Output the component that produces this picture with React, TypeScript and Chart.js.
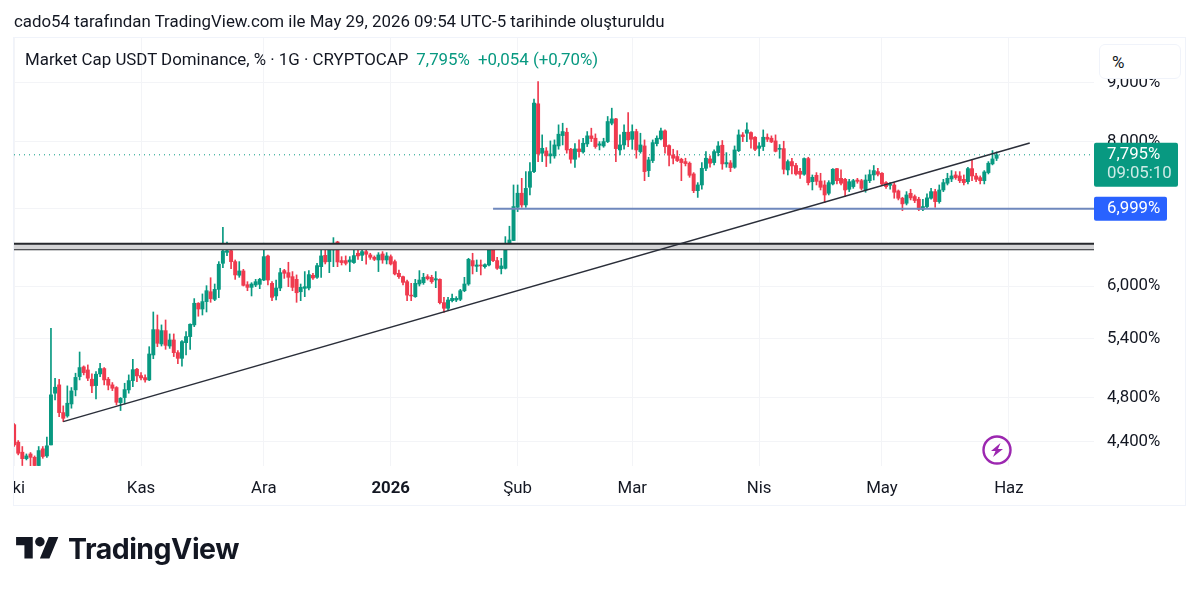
import { useEffect, useRef } from 'react';
import { Chart, registerables } from 'chart.js';

Chart.register(...registerables);

// daily candles, index 0 = 1 Oct 2025
const opens = [
  4.55,4.394,4.307,4.252,4.292,4.263,4.194,4.336,4.275,4.37,
  4.845,4.926,4.661,4.63,4.742,4.877,5.008,5.106,5.075,4.982,
  4.919,5.035,5.089,4.982,4.926,4.9,4.755,4.803,4.877,4.968,
  5.082,5.018,4.998,4.975,5.229,5.5,5.345,5.489,5.323,5.388,
  5.253,5.194,5.359,5.424,5.552,5.797,5.731,5.816,5.932,5.843,
  5.96,6.278,6.417,6.438,6.299,6.13,6.183,6.016,5.984,6.012,
  6.02,6.072,6.37,6.032,5.882,5.976,6.187,6.162,6.113,6.08,
  5.932,5.972,5.976,6.13,6.105,6.236,6.379,6.299,6.447,6.551,
  6.312,6.312,6.295,6.287,6.405,6.379,6.426,6.384,6.354,6.32,
  6.396,6.32,6.362,6.299,6.154,6.113,6.052,5.892,5.874,6.024,
  6.04,6.113,6.105,6.072,6.08,5.804,5.739,5.827,5.835,5.843,
  5.944,6.024,6.312,6.24,6.257,6.236,6.257,6.456,6.312,6.212,
  6.216,6.516,6.57,7.02,7.22,7.053,7.306,7.538,8.63,7.82,
  7.855,7.778,7.778,7.934,8.1,8.154,7.882,7.726,7.887,7.84,
  7.966,8.095,8.057,7.945,7.934,8.003,8.302,8.374,7.871,7.95,
  8.154,8.04,8.165,7.845,7.934,7.553,7.706,7.971,8.046,8.176,
  7.94,7.793,7.768,7.726,7.69,7.665,7.503,7.257,7.34,7.588,
  7.731,7.675,7.829,7.945,7.655,7.67,7.604,7.86,8.111,8.138,
  8.149,8.073,7.897,7.924,8.073,8.057,8.014,7.881,7.892,7.563,
  7.69,7.63,7.543,7.498,7.737,7.388,7.483,7.398,7.34,7.219,
  7.355,7.583,7.438,7.423,7.277,7.316,7.413,7.403,7.267,7.403,
  7.488,7.538,7.513,7.374,7.335,7.34,7.253,7.148,7.077,7.219,
  7.172,7.134,6.992,7.03,7.148,7.243,7.1,7.267,7.365,7.428,
  7.488,7.473,7.423,7.388,7.583,7.473,7.448,7.403,7.523,7.655,
  7.741,
];
const highs = [
  4.56,4.408,4.356,4.292,4.304,4.275,4.356,4.356,4.438,5.515,
  4.992,4.982,4.724,4.916,4.9,5.042,5.26,5.116,5.126,5.035,
  5.058,5.142,5.099,5.0,4.949,4.909,4.803,4.942,5.025,5.184,
  5.092,5.048,5.025,5.316,5.697,5.663,5.552,5.607,5.453,5.453,
  5.274,5.381,5.478,5.563,5.851,5.804,5.906,6.004,6.1,6.024,
  6.299,6.746,6.55,6.447,6.32,6.299,6.203,6.052,6.04,6.08,
  6.093,6.534,6.383,6.052,6.072,6.216,6.203,6.291,6.175,6.134,
  6.024,6.175,6.187,6.154,6.278,6.469,6.469,6.534,6.608,6.56,
  6.362,6.371,6.362,6.447,6.456,6.456,6.456,6.405,6.371,6.413,
  6.426,6.413,6.384,6.32,6.195,6.121,6.072,6.032,6.08,6.187,
  6.154,6.138,6.13,6.175,6.088,5.866,5.866,5.905,5.874,5.96,
  6.105,6.341,6.405,6.32,6.32,6.27,6.512,6.465,6.354,6.341,
  6.621,6.76,7.34,7.34,7.438,7.538,7.675,8.71,9.02,8.111,
  7.908,8.014,8.03,8.275,8.302,8.22,7.897,7.971,8.03,8.057,
  8.165,8.22,8.127,8.003,8.057,8.414,8.555,8.385,8.111,8.275,
  8.48,8.275,8.203,8.138,8.03,7.757,8.03,8.095,8.22,8.192,
  7.95,7.882,7.86,7.742,7.742,7.685,7.523,7.374,7.675,7.845,
  7.778,7.871,8.003,8.02,7.829,7.706,7.934,8.192,8.149,8.31,
  8.16,8.084,7.987,8.192,8.127,8.095,8.111,7.956,8.009,7.716,
  7.742,7.665,7.588,7.747,7.757,7.488,7.523,7.513,7.403,7.403,
  7.583,7.588,7.563,7.438,7.423,7.423,7.438,7.423,7.488,7.563,
  7.63,7.588,7.523,7.388,7.374,7.374,7.267,7.162,7.243,7.277,
  7.195,7.162,7.134,7.21,7.291,7.277,7.34,7.423,7.513,7.553,
  7.538,7.538,7.488,7.604,7.716,7.513,7.473,7.553,7.69,7.861,
  7.84,
];
const lows = [
  4.356,4.284,4.194,4.241,4.186,4.186,4.186,4.255,4.263,4.37,
  4.78,4.624,4.578,4.618,4.702,4.819,4.975,5.025,4.968,4.851,
  4.79,5.008,4.926,4.877,4.87,4.733,4.68,4.742,4.845,4.909,
  4.958,4.975,4.952,4.968,5.19,5.316,5.323,5.288,5.298,5.212,
  5.138,5.113,5.229,5.288,5.533,5.649,5.663,5.697,5.808,5.827,
  5.862,6.224,6.375,6.212,6.08,6.105,6.0,5.944,5.882,5.992,
  5.968,6.064,6.012,5.827,5.835,5.944,6.092,5.992,5.944,5.808,
  5.827,5.874,5.952,6.08,6.093,6.105,6.27,6.162,6.236,6.236,
  6.257,6.257,6.175,6.278,6.328,6.312,6.266,6.328,6.312,6.175,
  6.278,6.27,6.257,6.134,6.092,6.012,5.827,5.827,5.866,6.0,
  6.02,6.072,6.032,5.98,5.789,5.691,5.72,5.812,5.816,5.827,
  5.932,6.008,6.146,6.175,6.134,6.216,6.245,6.299,6.203,6.146,
  6.207,6.512,6.57,6.96,7.02,7.02,7.195,7.523,7.69,7.69,
  7.614,7.665,7.742,7.882,7.95,7.82,7.665,7.6,7.757,7.82,
  7.924,8.003,7.897,7.871,7.913,7.987,8.275,7.69,7.793,7.882,
  7.924,7.882,7.742,7.82,7.403,7.463,7.675,7.934,8.03,7.82,
  7.624,7.655,7.69,7.403,7.624,7.453,7.228,7.16,7.277,7.553,
  7.604,7.64,7.778,7.573,7.604,7.538,7.588,7.845,8.003,8.003,
  7.897,7.861,7.778,7.861,8.003,7.987,7.84,7.742,7.503,7.488,
  7.503,7.483,7.438,7.483,7.34,7.267,7.34,7.267,7.086,7.195,
  7.34,7.355,7.34,7.172,7.243,7.291,7.365,7.267,7.234,7.374,
  7.413,7.473,7.34,7.291,7.277,7.148,7.124,6.974,7.053,7.124,
  7.086,6.974,6.974,7.006,7.134,7.02,7.077,7.243,7.34,7.388,
  7.423,7.374,7.34,7.355,7.403,7.388,7.355,7.355,7.503,7.64,
  7.706,
];
const closes = [
  4.37,4.298,4.252,4.275,4.263,4.194,4.321,4.27,4.362,4.829,
  4.903,4.661,4.608,4.749,4.867,5.0,5.099,5.048,4.992,4.916,
  5.032,5.089,4.975,4.923,4.893,4.758,4.796,4.88,4.968,5.078,
  5.015,4.995,4.975,5.239,5.5,5.352,5.489,5.33,5.388,5.253,
  5.194,5.37,5.424,5.559,5.797,5.731,5.816,5.944,5.851,5.96,
  6.266,6.434,6.438,6.299,6.134,6.183,6.008,5.984,6.024,6.052,
  6.08,6.362,6.072,5.866,5.976,6.162,6.154,6.105,5.984,5.92,
  5.984,5.992,6.138,6.097,6.249,6.371,6.295,6.525,6.534,6.295,
  6.287,6.278,6.32,6.375,6.371,6.426,6.392,6.354,6.328,6.384,
  6.32,6.371,6.27,6.146,6.113,6.044,5.892,5.882,6.032,6.072,
  6.105,6.088,6.052,6.088,5.804,5.739,5.835,5.854,5.854,5.944,
  6.024,6.328,6.245,6.257,6.245,6.261,6.456,6.312,6.216,6.245,
  6.525,6.577,7.03,7.22,7.053,7.29,7.538,8.642,7.809,7.897,
  7.778,7.809,7.95,8.122,8.165,7.871,7.726,7.887,7.845,7.977,
  8.095,8.052,7.924,7.966,8.003,8.33,8.374,7.892,7.95,8.154,
  8.03,8.165,7.871,7.95,7.538,7.716,7.987,8.057,8.176,7.924,
  7.789,7.742,7.706,7.675,7.66,7.483,7.257,7.34,7.588,7.742,
  7.665,7.845,7.934,7.655,7.675,7.598,7.871,8.111,8.084,8.192,
  8.041,7.881,7.934,8.073,8.041,7.998,7.85,7.897,7.573,7.69,
  7.624,7.503,7.498,7.737,7.374,7.453,7.393,7.306,7.195,7.374,
  7.573,7.403,7.365,7.267,7.388,7.403,7.393,7.291,7.413,7.493,
  7.553,7.498,7.355,7.316,7.355,7.234,7.148,7.068,7.195,7.153,
  7.115,6.992,7.03,7.153,7.243,7.1,7.267,7.374,7.438,7.473,
  7.448,7.403,7.374,7.583,7.473,7.423,7.403,7.533,7.665,7.731,
  7.795,
];

const monthDays = [0, 31, 61, 92, 123, 151, 182, 212, 243];
const monthLabels = ['Eki', 'Kas', 'Ara', '2026', 'Şub', 'Mar', 'Nis', 'May', 'Haz'];
const priceTicks = [9, 8, 7, 6, 5.4, 4.8, 4.4];

const lastPrice = 7.795;
const supportPrice = 6.999;
const bandPrices = [6.529, 6.456];
const trendDays = [12, 248.1];
const trendPrices = [4.578, 7.982];

const xMin = -0.03;
const xMax = 263.8;

const GREEN = '#089981';
const RED = '#ef3a4e';
const BLUE = '#2962ff';
const GRID = '#f3f4f7';
const TEXT = '#131722';
const FONT = 'Roboto, sans-serif';

const upOrDown = opens.map((o, i) => (closes[i] >= o ? GREEN : RED));

const fmtPrice = (v: number) => v.toFixed(3).replace('.', ',') + '%';

// price tags sitting on the right axis, on top of the tick labels
const priceTags = {
  id: 'priceTags',
  afterDraw(chart: Chart) {
    const { ctx, scales, chartArea } = chart;
    const y = scales.y;
    const left = chartArea.right;

    const lastY = y.getPixelForValue(lastPrice);
    ctx.save();
    ctx.textBaseline = 'middle';
    ctx.textAlign = 'left';
    ctx.font = `16.8px ${FONT}`;

    ctx.fillStyle = GREEN;
    ctx.beginPath();
    ctx.roundRect(left, lastY - 12, 84, 44, 2);
    ctx.fill();
    ctx.fillStyle = '#ffffff';
    ctx.fillText(fmtPrice(lastPrice), left + 13, lastY);
    ctx.fillStyle = 'rgba(255,255,255,0.8)';
    ctx.fillText('09:05:10', left + 13, lastY + 19);

    const supY = y.getPixelForValue(supportPrice);
    ctx.fillStyle = BLUE;
    ctx.beginPath();
    ctx.roundRect(left, supY - 12, 73, 24, 2);
    ctx.fill();
    ctx.fillStyle = '#ffffff';
    ctx.fillText(fmtPrice(supportPrice), left + 13, supY);
    ctx.restore();
  },
};

function hline(price: number, from: number) {
  return [
    { x: from, y: price },
    { x: xMax, y: price },
  ];
}

export default function App() {
  const chartRef = useRef<HTMLCanvasElement>(null);

  useEffect(() => {
    if (!chartRef.current) return;

    const chart = new Chart(chartRef.current, {
      type: 'bar',
      plugins: [priceTags],
      data: {
        datasets: [
          {
            type: 'line',
            data: trendDays.map((d, i) => ({ x: d, y: trendPrices[i] })),
            borderColor: '#2a2e39',
            borderWidth: 1.5,
            pointRadius: 0,
            order: 0,
          },
          {
            type: 'line',
            data: hline(supportPrice, 117),
            borderColor: '#6f88bd',
            borderWidth: 2,
            pointRadius: 0,
            order: 1,
          },
          {
            type: 'line',
            data: hline(bandPrices[0], xMin),
            borderColor: '#26282c',
            borderWidth: 2,
            pointRadius: 0,
            fill: '+1',
            backgroundColor: '#d4d4d6',
            order: 1,
          },
          {
            type: 'line',
            data: hline(bandPrices[1], xMin),
            borderColor: '#26282c',
            borderWidth: 2,
            pointRadius: 0,
            order: 1,
          },
          {
            type: 'line',
            data: hline(lastPrice, xMin),
            borderColor: GREEN,
            borderWidth: 1,
            borderDash: [1, 4],
            pointRadius: 0,
            order: 5,
          },
          {
            data: closes.map((c, i) => ({
              x: i,
              y: [Math.min(opens[i], c), Math.max(opens[i], c)],
            })),
            backgroundColor: upOrDown,
            barThickness: 3.3,
            grouped: false,
            order: 2,
          },
          {
            data: highs.map((h, i) => ({ x: i, y: [lows[i], h] })),
            backgroundColor: upOrDown,
            barThickness: 1,
            grouped: false,
            order: 3,
          },
        ],
      } as any,
      options: {
        responsive: false,
        animation: false,
        devicePixelRatio: 1,
        layout: { padding: { left: 14, top: 37, right: 14, bottom: 85 } },
        plugins: { legend: { display: false }, tooltip: { enabled: false } },
        events: [],
        scales: {
          x: {
            type: 'linear',
            offset: false,
            min: xMin,
            max: xMax,
            afterBuildTicks: (scale: any) => {
              scale.ticks = monthDays.map((value) => ({ value }));
            },
            afterFit: (scale: any) => {
              scale.height = 40;
              scale.paddingLeft = 0;
              scale.paddingRight = 0;
            },
            border: { display: false },
            grid: { color: GRID, drawTicks: false, offset: false },
            ticks: {
              autoSkip: false,
              maxRotation: 0,
              padding: 13,
              color: TEXT,
              callback: (v: any) => monthLabels[monthDays.indexOf(Number(v))],
              font: (c: any) => ({
                family: FONT,
                size: 16.8,
                weight: c.tick && c.tick.value === 92 ? 'bold' : 'normal',
              }),
            },
          },
          y: {
            type: 'logarithmic',
            position: 'right',
            min: 4.19,
            max: 9.86,
            afterBuildTicks: (scale: any) => {
              scale.ticks = priceTicks.map((value) => ({ value }));
            },
            afterFit: (scale: any) => {
              scale.width = 92;
              scale.paddingTop = 0;
              scale.paddingBottom = 0;
            },
            border: { display: false },
            grid: { color: GRID, drawTicks: false },
            ticks: {
              autoSkip: false,
              padding: 13,
              crossAlign: 'near',
              color: TEXT,
              font: { family: FONT, size: 16.8 },
              callback: (v: any) => fmtPrice(Number(v)),
            },
          },
        },
      } as any,
    });

    return () => chart.destroy();
  }, []);

  return (
    <div style={{ position: 'absolute', left: 0, top: 0, width: 1200, height: 591, overflow: 'hidden', background: '#fff', fontFamily: FONT, color: TEXT }}>
      <canvas ref={chartRef} width={1200} height={591} style={{ position: 'absolute', left: 0, top: 0 }} />
      <div style={{ position: 'absolute', left: 13, top: 37, width: 1173, height: 469, border: '1px solid #f0f3fa', boxSizing: 'border-box', pointerEvents: 'none' }} />
      {/* hides the part of the first month label that falls outside the frame */}
      <div style={{ position: 'absolute', left: 0, top: 472, width: 13, height: 30, background: '#fff' }} />
      <div style={{ position: 'absolute', left: 14, top: 12, fontSize: 16.88, lineHeight: '19px', whiteSpace: 'nowrap' }}>
        cado54 tarafından TradingView.com ile May 29, 2026 09:54 UTC-5 tarihinde oluşturuldu
      </div>
      <div style={{ position: 'absolute', left: 25, top: 50, fontSize: 16.88, lineHeight: '19px', whiteSpace: 'nowrap' }}>
        Market Cap USDT Dominance, % · 1G · CRYPTOCAP
        <span style={{ color: GREEN, marginLeft: 8 }}>7,795%</span>
        <span style={{ color: GREEN, marginLeft: 8 }}>+0,054 (+0,70%)</span>
      </div>
      <div style={{ position: 'absolute', left: 1099, top: 44, width: 82, height: 35, boxSizing: 'border-box', border: '1px solid #f0f3fa', borderRadius: 6, background: '#fff', fontSize: 17, lineHeight: '35px', paddingLeft: 12 }}>
        %
      </div>
      <svg width={30} height={30} viewBox="0 0 30 30" style={{ position: 'absolute', left: 982, top: 435 }}>
        <circle cx={15} cy={15} r={13.5} fill="none" stroke="#9c27b0" strokeWidth={2.4} />
        <path d="M18.5 8 L9 16 H13.5 L11 22 L21 14 H16 Z" fill="#9c27b0" />
      </svg>
      <svg width={43} height={22} viewBox="0 4 36 18.5" style={{ position: 'absolute', left: 16, top: 537 }}>
        <path d="M14 22H7V11H0V4h14v18zM28 22h-8l7.5-18h8L28 22z" fill="#131722" />
        <circle cx={20} cy={8} r={4} fill="#131722" />
      </svg>
      <div style={{ position: 'absolute', left: 68, top: 531, fontFamily: 'Inter, sans-serif', fontWeight: 700, fontSize: 28.5, lineHeight: '36px', letterSpacing: '-0.5px' }}>
        TradingView
      </div>
    </div>
  );
}
